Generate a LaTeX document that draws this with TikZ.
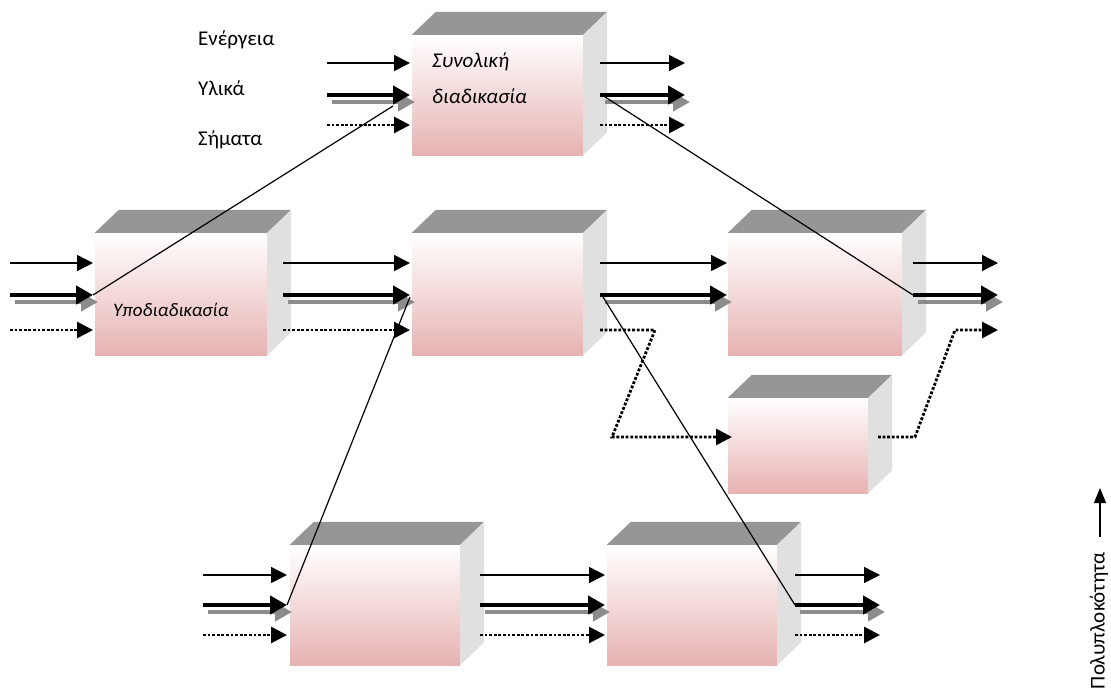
\documentclass[tikz,border=0pt]{standalone}
\usepackage{fontspec}
\setmainfont{Carlito}
\usetikzlibrary{arrows.meta}
\definecolor{facepink}{RGB}{231,178,178}
\definecolor{topgray}{RGB}{150,150,150}
\definecolor{sidegray}{RGB}{224,224,224}
\definecolor{shadowgray}{RGB}{140,140,140}

\begin{document}
\begin{tikzpicture}
[x=1pt,y=-1pt,
  faceDecorate/.style={shape=rectangle,inner sep=0pt,draw=none,top color=white,bottom color=facepink},
  thinFlow/.style={line width=1.5pt,-{Triangle[length=16pt,width=16pt]}},
  thickFlow/.style={line width=4.8pt,-{Triangle[length=17pt,width=18pt]}},
  shadowFlow/.style={thickFlow,color=shadowgray},
  dotFlow/.style={line width=2.8pt,dash pattern=on 2.8pt off 1.8pt,-{Triangle[length=16pt,width=16pt]}},
  splitDecorate/.style={line width=1.2pt},
  labelDecorate/.style={anchor=west,inner sep=0pt,font=\fontsize{21}{23}\selectfont}]
\useasboundingbox (0,0) rectangle (1111,696);
%% process boxes
\foreach \nodename/\xa/\ya/\xb/\yb in {
  total/412/35/583/155, sub1/95/233/267/355, sub2/412/233/583/355,
  sub3/728/233/902/355, sub4/728/398/868/493, sub5/290/545/460/665,
  sub6/607/545/777/665}
{
  \node (\nodename) at ({(\xa+\xb)/2},{(\ya+\yb)/2}) [faceDecorate,
    minimum width={\xb-\xa}, minimum height={\yb-\ya}] {};
  \fill[topgray] (\nodename.north west) -- ++(24,-23)
    -- ([shift={(24,-23)}]\nodename.north east) -- (\nodename.north east) -- cycle;
  \fill[sidegray] (\nodename.north east) -- ++(24,-23)
    -- ([shift={(24,-23)}]\nodename.south east) -- (\nodename.south east) -- cycle;
}
%% flows: energy, materials, signals
\foreach \gname/\xa/\xb/\ya/\yb/\yc/\hasdot in {
  tin/327/410/63/95/125/1, tout/600/685/63/95/125/1,
  ain/10/93/263/295/330/1, ab/283/410/263/295/330/1,
  bc/600/727/263/295/330/0, cout/913/998/263/295/330/0,
  ein/203/287/575/605/635/1, ef/480/605/575/605/635/1,
  fout/795/880/575/605/635/1}
{
  \coordinate (\gname-t1) at (\xa,\ya);
  \coordinate (\gname-t2) at (\xb,\ya);
  \coordinate (\gname-m1) at (\xa,\yb);
  \coordinate (\gname-m2) at (\xb,\yb);
  \draw[thinFlow] (\gname-t1) -- (\gname-t2);
  \draw[shadowFlow] ([shift={(5,7)}]\gname-m1) -- ([shift={(5,7)}]\gname-m2);
  \draw[thickFlow] (\gname-m1) -- (\gname-m2);
  \ifnum\hasdot=1
    \coordinate (\gname-d1) at (\xa,\yc);
    \coordinate (\gname-d2) at (\xb,\yc);
    \draw[dotFlow] (\gname-d1) -- (\gname-d2);
  \fi
}
%% signal loop through the small box
\coordinate (bcd1) at (600,330);
\coordinate (bcd2) at (655,330);
\coordinate (bcd3) at (612,437);
\coordinate (bcd4) at (732,437);
\draw[dotFlow] (bcd1) -- (bcd2) -- (bcd3) -- (bcd4);
\coordinate (coutd1) at (878,437);
\coordinate (coutd2) at (915,437);
\coordinate (coutd3) at (955,330);
\coordinate (coutd4) at (998,330);
\draw[dotFlow] (coutd1) -- (coutd2) -- (coutd3) -- (coutd4);
%% decomposition lines
\coordinate (tinx) at (393,106);
\coordinate (toutx) at (602,95);
\coordinate (abx) at (410,297);
\coordinate (bcx) at (603,297);
\path
\foreach \startnode/\endnode in {
  tinx/ain-m2, toutx/cout-m1, abx/ein-m2, bcx/fout-m1}
{
  (\startnode) edge[splitDecorate] (\endnode)
};
%% labels
\node (energy) at (198,40) [labelDecorate] {Ενέργεια};
\node (material) at (198,88) [labelDecorate] {Υλικά};
\node (signal) at (198,140) [labelDecorate] {Σήματα};
\node (totallabel) at (432,62) [labelDecorate] {\itshape Συνολική};
\node (totallabel2) at (432,96) [labelDecorate] {\itshape διαδικασία};
\node (sublabel) at (113,310) [labelDecorate,font=\fontsize{19}{21}\selectfont\itshape] {Υποδιαδικασία};
\node (complexity) at (1099,621) [rotate=90,inner sep=0pt,font=\fontsize{21}{23}\selectfont] {Πολυπλοκότητα};
\coordinate (axbase) at (1100,537);
\coordinate (axtip) at (1100,488);
\draw[line width=1.2pt,-{Triangle[length=15pt,width=12pt]}] (axbase) -- (axtip);
\end{tikzpicture}
\end{document}
